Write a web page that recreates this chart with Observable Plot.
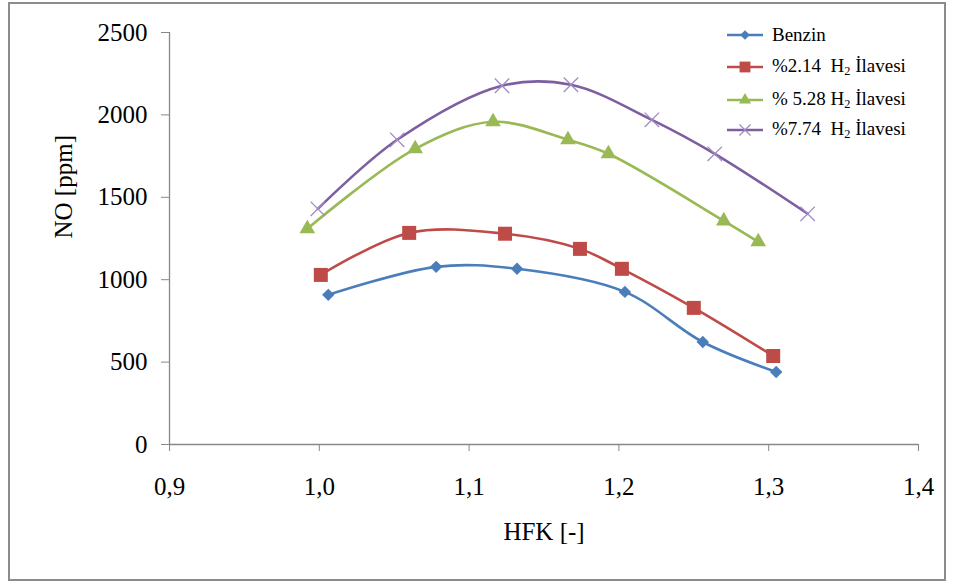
<!DOCTYPE html>
<html><head><meta charset="utf-8">
<script src="https://cdn.jsdelivr.net/npm/d3@7"></script>
<script src="https://cdn.jsdelivr.net/npm/@observablehq/plot@0.6"></script>
<style>
body{margin:0;background:#fff;}
#wrap{position:relative;width:958px;height:585px;font-family:"Liberation Serif",serif;}
#border{position:absolute;left:8px;top:2px;width:938px;height:579px;border:2px solid #8c8c8c;box-sizing:border-box;pointer-events:none;}
#chart{position:absolute;left:0;top:0;}
#chart svg, #chart svg text{font-family:"Liberation Serif",serif !important;}
.lg{position:absolute;left:726px;height:24px;display:flex;align-items:center;font-size:19px;color:#000;white-space:pre;font-family:"Liberation Serif",serif;}
.lg svg{margin-right:8px;}
sub{font-size:0.65em;vertical-align:-0.25em;}
</style></head>
<body><div id="wrap"><div id="chart"></div><div id="border"></div><div id="legend"></div></div>
<script>
// ---- data ----
const seriesNames = ["Benzin", "%2.14  H2 İlavesi", "% 5.28 H2 İlavesi", "%7.74  H2 İlavesi"];
const hfkBenzin = [1.006, 1.078, 1.132, 1.204, 1.256, 1.305];
const noBenzin  = [908, 1078, 1066, 926, 622, 440];
const hfkH214 = [1.001, 1.060, 1.124, 1.174, 1.202, 1.250, 1.303];
const noH214  = [1029, 1284, 1279, 1187, 1066, 829, 537];
const hfkH528 = [0.992, 1.064, 1.116, 1.166, 1.193, 1.270, 1.293];
const noH528  = [1309, 1794, 1958, 1849, 1764, 1357, 1230];
const hfkH774 = [0.999, 1.052, 1.122, 1.168, 1.222, 1.264, 1.326];
const noH774  = [1430, 1849, 2177, 2183, 1970, 1764, 1400];
const xTicks = [0.9, 1.0, 1.1, 1.2, 1.3, 1.4];
const yTicks = [0, 500, 1000, 1500, 2000, 2500];

const styles = [
  {color:"#4a7ebb", symbol:"diamond2", r:5.6, fill:"#4a7ebb", stroke:"none", sw:0},
  {color:"#be4b48", symbol:"square", r:7.9, fill:"#be4b48", stroke:"none", sw:0},
  {color:"#98b954", symbol:"triangle", r:5.8, fill:"#98b954", stroke:"none", sw:0},
  {color:"#7d5fa0", symbol:"times", r:6.6, fill:"none", stroke:"#a18bc4", sw:1.3}
];
const xs = [hfkBenzin, hfkH214, hfkH528, hfkH774];
const ys = [noBenzin, noH214, noH528, noH774];
const series = xs.map((x, i) => x.map((v, j) => ({s: seriesNames[i], x: v, y: ys[i][j]})));

const marks = [];
series.forEach((d, i) => {
  const st = styles[i];
  marks.push(Plot.line(d, {x:"x", y:"y", stroke: st.color, strokeWidth: 2.6, curve: "catmull-rom"}));
});
series.forEach((d, i) => {
  const st = styles[i];
  marks.push(Plot.dot(d, {x:"x", y:"y", symbol: st.symbol, r: st.r, fill: st.fill, stroke: st.stroke, strokeWidth: st.sw}));
});

const fmtX = d => d.toFixed(1).replace(".", ",");
const fmtY = d => String(d);
const plot = Plot.plot({
  width: 958, height: 585,
  marginLeft: 169, marginRight: 40, marginTop: 32, marginBottom: 141,
  style: {fontFamily: '"Liberation Serif", serif', fontSize: "25px", color: "#000", background: "transparent"},
  x: {domain: [0.9, 1.4], label: null},
  y: {domain: [0, 2500], label: null},
  marks: [
    Plot.axisX({ticks: xTicks, tickFormat: fmtX, tickSize: 7, tickPadding: 26, stroke: "#888", label: null, fontSize: 25}),
    Plot.axisY({ticks: yTicks, tickFormat: fmtY, tickSize: 8, tickPadding: 14, stroke: "#888", label: null, fontSize: 25}),
    Plot.ruleY([0], {stroke: "#888", strokeWidth: 1.3}),
    Plot.ruleX([0.9], {stroke: "#888", strokeWidth: 1.3}),
    ...marks,
    Plot.text(["NO [ppm]"], {frameAnchor: "left", dx: -106, rotate: -90, fontSize: 25, fill: "#000"}),
    Plot.text(["HFK [-]"], {frameAnchor: "bottom", dy: 95, fontSize: 25, fill: "#000"})
  ]
});
document.getElementById("chart").appendChild(plot);

// legend
const legend = document.getElementById("legend");
const rowsY = [23, 55, 88, 118];
const labelHtml = ["Benzin", "%2.14  H<sub>2</sub> İlavesi", "% 5.28 H<sub>2</sub> İlavesi", "%7.74  H<sub>2</sub> İlavesi"];
styles.forEach((st, i) => {
  const row = document.createElement("div");
  row.className = "lg";
  row.style.top = rowsY[i] + "px";
  const sym = d3.symbol(d3["symbol" + {diamond2:"Diamond2", square:"Square", triangle:"Triangle", times:"Times"}[st.symbol]], Math.PI * st.r * st.r * 0.6)();
  row.innerHTML = `<svg width="38" height="20"><line x1="1" x2="37" y1="10" y2="10" stroke="${st.color}" stroke-width="2.6"/><path transform="translate(19,10)" d="${sym}" fill="${st.fill}" stroke="${st.stroke}" stroke-width="${st.sw}"/></svg><span>${labelHtml[i]}</span>`;
  legend.appendChild(row);
});
</script></body></html>
